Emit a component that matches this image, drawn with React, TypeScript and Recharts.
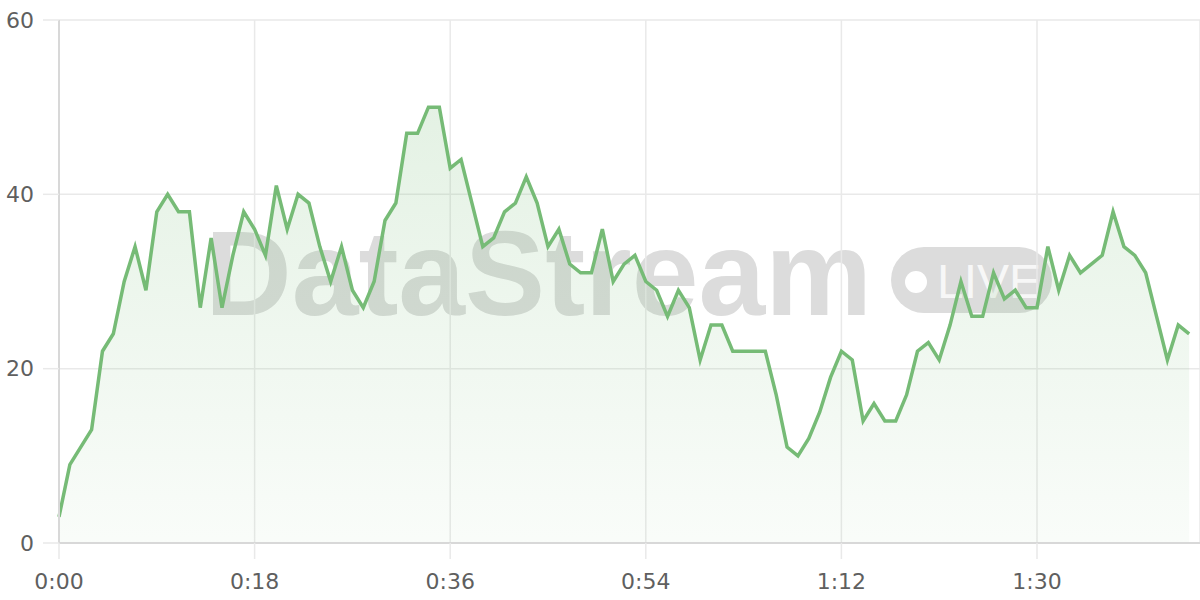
import { AreaChart, Area, XAxis, YAxis, CartesianGrid } from 'recharts'

// one reading per second
const values = [
    3, 9, 11, 13, 22, 24, 30, 34, 29, 38, 40, 38, 38, 27, 35, 27, 33, 38, 36, 33,
    41, 36, 40, 39, 34, 30, 34, 29, 27, 30, 37, 39, 47, 47, 50, 50, 43, 44, 39, 34,
    35, 38, 39, 42, 39, 34, 36, 32, 31, 31, 36, 30, 32, 33, 30, 29, 26, 29, 27, 21,
    25, 25, 22, 22, 22, 22, 17, 11, 10, 12, 15, 19, 22, 21, 14, 16, 14, 14, 17, 22,
    23, 21, 25, 30, 26, 26, 31, 28, 29, 27, 27, 34, 29, 33, 31, 32, 33, 38, 34, 33,
    31, 26, 21, 25, 24,
]
const xTicks = [0, 18, 36, 54, 72, 90]
const yTicks = [0, 20, 40, 60]

const LINE = '#76bb76'
const GRID = '#e9e9e9'
const AXIS = '#d8d8d8'

const fmtTime = (s: number) => `${Math.floor(s / 60)}:${String(s % 60).padStart(2, '0')}`

const tickStyle = { fill: '#5f5f5f', fontSize: 22, fontFamily: 'DejaVu Sans' }

function Watermark() {
    return (
        <svg width={1200} height={600} style={{ position: 'absolute', left: 0, top: 0 }}>
            <text
                x={205}
                y={315}
                fill="#dcdcdc"
                fontSize={120}
                fontWeight="bold"
                fontFamily="Liberation Sans"
            >
                DataStream
            </text>
            <rect x={891} y={247} width={161} height={66} rx={33} fill="#dcdcdc" />
            <circle cx={916} cy={282} r={11} fill="#ffffff" />
            <text x={937} y={298} fill="#f7f7f7" fontSize={48} fontFamily="Liberation Sans">
                LIVE
            </text>
        </svg>
    )
}

export default function App() {
    const data = values.map((v, i) => ({ t: i, v }))

    return (
        <div style={{ position: 'absolute', left: 0, top: 0, width: 1200, height: 600 }}>
            <Watermark />
            <div style={{ position: 'absolute', left: 0, top: 0 }}>
                <AreaChart width={1200} height={600} data={data} margin={{ top: 20, right: 0, bottom: 0, left: 0 }}>
                    <defs>
                        <linearGradient id="fillGreen" gradientUnits="userSpaceOnUse" x1={0} y1={20} x2={0} y2={543}>
                            <stop offset="0%" stopColor={LINE} stopOpacity={0.38} />
                            <stop offset="100%" stopColor={LINE} stopOpacity={0.07} />
                        </linearGradient>
                    </defs>
                    <CartesianGrid stroke={GRID} strokeWidth={1.5} />
                    <XAxis
                        dataKey="t"
                        type="number"
                        domain={[0, 105]}
                        ticks={xTicks}
                        tickFormatter={fmtTime}
                        height={57}
                        tickSize={16}
                        tickMargin={14}
                        tick={tickStyle}
                        tickLine={{ stroke: GRID, strokeWidth: 1.5 }}
                        axisLine={{ stroke: AXIS, strokeWidth: 2 }}
                    />
                    <YAxis
                        type="number"
                        domain={[0, 60]}
                        ticks={yTicks}
                        width={59}
                        tickSize={16}
                        tickMargin={9}
                        tick={tickStyle}
                        tickLine={{ stroke: GRID, strokeWidth: 1.5 }}
                        axisLine={{ stroke: AXIS, strokeWidth: 2 }}
                    />
                    <Area
                        type="linear"
                        dataKey="v"
                        stroke={LINE}
                        strokeWidth={3.5}
                        fill="url(#fillGreen)"
                        dot={false}
                        activeDot={false}
                        isAnimationActive={false}
                    />
                </AreaChart>
            </div>
        </div>
    )
}
